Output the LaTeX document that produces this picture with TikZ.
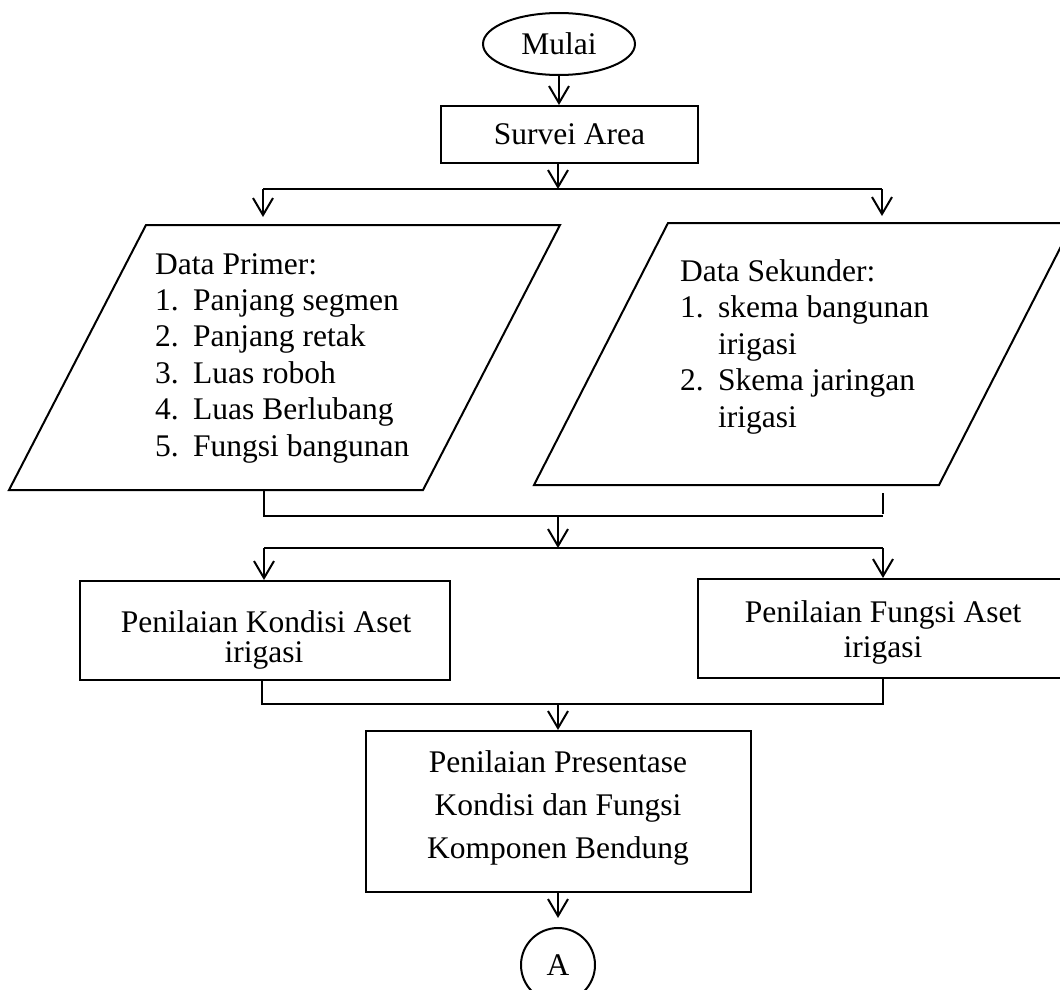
\documentclass[tikz,border=0pt]{standalone}
\usepackage{fontspec}
\setmainfont{Liberation Serif}
\usetikzlibrary{arrows.meta,shapes.geometric}
\begin{document}
\begin{tikzpicture}[x=1pt,y=-1pt,
  ln/.style={line width=2pt},
  arr/.style={line width=2pt,-{Straight Barb[length=17pt,width=20pt]}},
  box/.style={draw,line width=2pt,rectangle,inner sep=0pt},
  txt/.style={font=\fontsize{31.5}{38}\selectfont,inner sep=0pt},
]
\useasboundingbox (0,0) rectangle (1060,990);
\clip (0,0) rectangle (1060,990);
\fill[white] (0,0) rectangle (1060,990);

% start
\node[draw,ellipse,ln,minimum width=152pt,minimum height=62pt,txt] (mulai) at (559,44) {Mulai};
\node[box,minimum width=257pt,minimum height=57pt,txt] (survei) at (569.5,134.5) {Survei Area};
\draw[arr] (mulai.south) -- (mulai.south |- survei.north);

% split 1
\coordinate (j1) at (558,189);
\coordinate (j1l) at (263,189);
\coordinate (j1r) at (882,189);
\draw[arr] (survei.south -| j1) -- (j1);
\draw[ln] (j1l) -- (j1r);

% parallelograms
\coordinate (p1a) at (146,225);
\coordinate (p1b) at (560,225);
\coordinate (p1c) at (423,490);
\coordinate (p1d) at (9,490);
\draw[ln] (p1a) -- (p1b) -- (p1c) -- (p1d) -- cycle;
\coordinate (p2a) at (668,223);
\coordinate (p2b) at (1073,223);
\coordinate (p2c) at (939,485);
\coordinate (p2d) at (534,485);
\draw[ln] (p2a) -- (p2b) -- (p2c) -- (p2d) -- cycle;
\draw[arr] (j1l) -- (j1l |- 0,217);
\draw[arr] (j1r) -- (j1r |- 0,216);

\node[txt,anchor=base west] (dp) at (155,274) {Data Primer:};
\foreach \n/\t [count=\i] in {1./Panjang segmen,2./Panjang retak,3./Luas roboh,4./Luas Berlubang,5./Fungsi bangunan}{
  \node[txt,anchor=base west] (pn\i) at (155,{274+36.4*\i}) {\n};
  \node[txt,anchor=base west] (pt\i) at (193,{274+36.4*\i}) {\t};
}
\node[txt,anchor=base west] (ds) at (680,281) {Data Sekunder:};
\node[txt,anchor=base west] (sn1) at (680,317.5) {1.};
\node[txt,anchor=base west] (st1) at (718,317.5) {skema bangunan};
\node[txt,anchor=base west] (st2) at (718,354) {irigasi};
\node[txt,anchor=base west] (sn3) at (680,390.5) {2.};
\node[txt,anchor=base west] (st3) at (718,390.5) {Skema jaringan};
\node[txt,anchor=base west] (st4) at (718,427) {irigasi};

% merge 1
\coordinate (m1l) at (264,490);
\coordinate (m1lb) at (264,516);
\coordinate (m1rb) at (883,516);
\coordinate (m1c) at (558,516);
\coordinate (stubt) at (883,493);
\draw[ln] (m1l) -- (m1lb) -- (m1rb);
\draw[ln] (stubt) -- (883,514);
\coordinate (j2) at (558,548);
\coordinate (j2l) at (264,548);
\coordinate (j2r) at (883,548);
\draw[arr] (m1c) -- (j2);
\draw[ln] (j2l) -- (j2r);

% boxes
\node[box,minimum width=370pt,minimum height=99pt] (kond) at (265,630.5) {};
\node[box,minimum width=370pt,minimum height=99pt] (fung) at (883,628.5) {};
\draw[arr] (j2l) -- (j2l |- kond.north);
\draw[arr] (j2r) -- (j2r |- fung.north);
\node[txt,anchor=base] (k1) at (266,632) {Penilaian Kondisi Aset};
\node[txt,anchor=base] (k2) at (264,662) {irigasi};
\node[txt,anchor=base] (f1) at (883,622) {Penilaian Fungsi Aset};
\node[txt,anchor=base] (f2) at (883,657) {irigasi};

% merge 2
\coordinate (m2l) at (262,704);
\coordinate (m2r) at (883,704);
\coordinate (m2c) at (558,704);
\draw[ln] (kond.south -| m2l) -- (m2l) -- (m2r) -- (fung.south -| m2r);
\node[box,minimum width=385pt,minimum height=161pt] (pres) at (558.5,811.5) {};
\draw[arr] (m2c) -- (m2c |- pres.north);
\node[txt,anchor=base] (r1) at (558,772) {Penilaian Presentase};
\node[txt,anchor=base] (r2) at (558,815) {Kondisi dan Fungsi};
\node[txt,anchor=base] (r3) at (558,858) {Komponen Bendung};

% connector A
\node[draw,circle,ln,minimum size=74pt,txt] (a) at (558,965) {A};
\draw[arr] (pres.south -| a) -- (558,918);
\end{tikzpicture}
\end{document}
